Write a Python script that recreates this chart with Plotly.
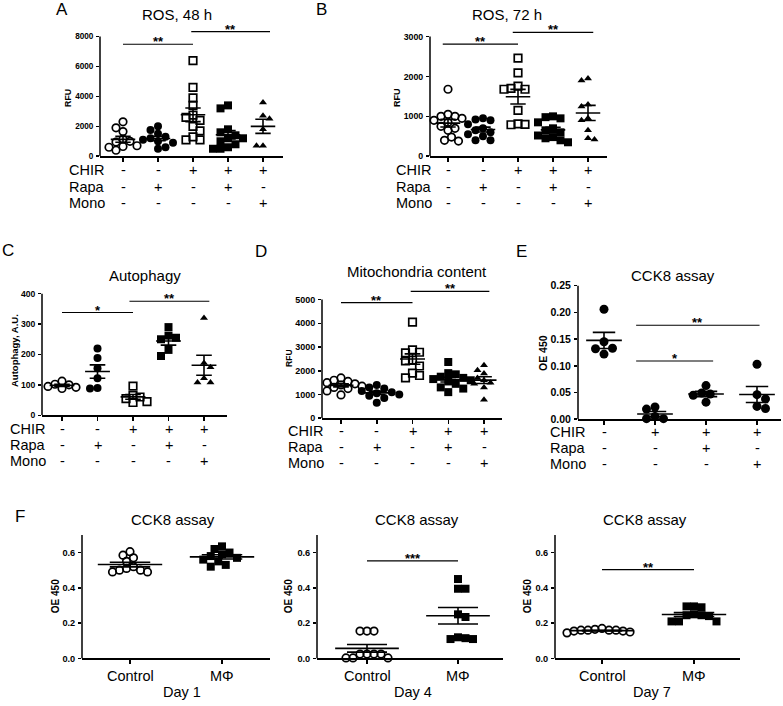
import numpy as np
import plotly.graph_objects as go

W, H = 783, 706
FONT = "Liberation Sans, Arial, sans-serif"

# ---------------- data ----------------
chir5 = ["-", "-", "+", "+", "+"]
rapa5 = ["-", "+", "-", "+", "-"]
mono5 = ["-", "-", "-", "-", "+"]

chir4 = ["-", "+", "+", "+"]
rapa4 = ["-", "-", "+", "-"]
mono4 = ["-", "-", "-", "+"]

# A: ROS, 48 h (RFU)
ros48_ctrl = [2300, 1900, 1650, 1150, 1000, 950, 700, 650, 600, 400]
ros48_rapa = [2000, 1750, 1500, 1300, 1200, 1100, 1000, 900, 600, 500]
ros48_chir = [6400, 4600, 3900, 3400, 2750, 2600, 2400, 2000, 1700, 1300, 1100, 1100]
ros48_chir_rapa = [3400, 3200, 1800, 1600, 1400, 1200, 1200, 1000, 800, 600, 500, 500]
ros48_chir_mono = [3600, 2700, 2500, 1800, 700, 700]

# B: ROS, 72 h (RFU)
ros72_ctrl = [1680, 1050, 1000, 1000, 950, 900, 850, 750, 700, 650, 480, 400, 380]
ros72_rapa = [950, 920, 900, 800, 700, 650, 600, 550, 500, 400, 400]
ros72_chir = [2460, 2090, 1760, 1700, 1680, 1680, 1150, 810, 800, 790]
ros72_chir_rapa = [1000, 980, 950, 850, 700, 650, 600, 520, 480, 450, 400, 350]
ros72_chir_mono = [1950, 1900, 1300, 1250, 950, 900, 650, 450, 420]

# C: Autophagy (A.U.)
auto_ctrl = [112, 102, 100, 95, 92, 88]
auto_rapa = [220, 188, 155, 122, 90, 88]
auto_chir = [96, 65, 60, 55, 45, 42]
auto_chir_rapa = [290, 262, 255, 250, 215, 195]
auto_chir_mono = [320, 172, 158, 122, 108, 108]

# D: Mitochondria content (RFU)
mito_ctrl = [1700, 1600, 1550, 1500, 1450, 1400, 1350, 1300, 1250, 1150, 980]
mito_rapa = [1400, 1300, 1250, 1150, 1100, 1050, 1000, 950, 850, 650]
mito_chir = [4050, 2880, 2780, 2750, 2450, 2420, 2200, 1900, 1800, 1700]
mito_chir_rapa = [2370, 1900, 1850, 1750, 1700, 1650, 1600, 1550, 1450, 1300, 1250, 1100]
mito_chir_mono = [2230, 2020, 1880, 1700, 1600, 1500, 1450, 1300, 780]

# E: CCK8 assay (OE 450)
cck_ctrl = [0.206, 0.145, 0.133, 0.132, 0.122]
cck_chir = [0.023, 0.019, 0.005, 0.001, 0.001]
cck_chir_rapa = [0.063, 0.049, 0.047, 0.045, 0.032]
cck_chir_mono = [0.103, 0.046, 0.038, 0.024, 0.020]

# F: CCK8 assay, Control vs MΦ
f_categories = ["Control", "MΦ"]
day1_ctrl = [0.605, 0.585, 0.57, 0.55, 0.52, 0.51, 0.50, 0.49, 0.49, 0.50]
day1_mphi = [0.635, 0.62, 0.60, 0.59, 0.58, 0.57, 0.56, 0.55, 0.53, 0.52]
day4_ctrl = [0.155, 0.155, 0.155, 0.025, 0.025, 0.025, 0.025, 0.003, 0.003, 0.003]
day4_mphi = [0.45, 0.395, 0.395, 0.25, 0.235, 0.115, 0.11, 0.11, 0.12]
day7_ctrl = [0.165, 0.16, 0.16, 0.155, 0.15, 0.145, 0.16, 0.17, 0.155, 0.16]
day7_mphi = [0.295, 0.295, 0.29, 0.25, 0.245, 0.245, 0.24, 0.21, 0.21, 0.21]

SYM5 = ["circle-open", "circle", "square-open", "square", "triangle-up"]

# ---------------- panel layout (pixels) ----------------
panels = [
    dict(letter="A", letter_xy=(62, 8), title="ROS, 48 h", title_xy=(177, 13),
         groups=[ros48_ctrl, ros48_rapa, ros48_chir, ros48_chir_rapa, ros48_chir_mono], syms=SYM5,
         xl=100, xr=283, c1=123, dx=35, yb=156, ytval=8000, ytpx=35, ytop=18, yline=8000,
         yticks=[0, 2000, 4000, 6000, 8000], fmt="{:.0f}", tfs=8.2,
         ylabel="RFU", ylabel_xy=(68, 97), lfs=8.8,
         rows=(67, [170, 187, 203], chir5, rapa5, mono5),
         sig=[(1, 3, 7490, "**"), (2.95, 5.2, 8330, "**")]),
    dict(letter="B", letter_xy=(321, 8), title="ROS, 72 h", title_xy=(507, 13),
         groups=[ros72_ctrl, ros72_rapa, ros72_chir, ros72_chir_rapa, ros72_chir_mono], syms=SYM5,
         xl=430, xr=607, c1=448, dx=35, yb=156, ytval=3000, ytpx=35, ytop=18, yline=3000,
         yticks=[0, 1000, 2000, 3000], fmt="{:.0f}", tfs=8.8,
         ylabel="RFU", ylabel_xy=(397, 97), lfs=9,
         rows=(394, [170, 187, 203], chir5, rapa5, mono5),
         sig=[(0.85, 3, 2810, "**"), (2.85, 5.15, 3107, "**")]),
    dict(letter="C", letter_xy=(8, 251), title="Autophagy", title_xy=(145, 277),
         groups=[auto_ctrl, auto_rapa, auto_chir, auto_chir_rapa, auto_chir_mono], syms=SYM5,
         xl=42, xr=227, c1=62, dx=35.5, yb=418, ytval=400, ytpx=295, ytop=283, yline=400,
         yticks=[0, 100, 200, 300, 400], fmt="{:.0f}", tfs=8.6,
         ylabel="Autophagy, A.U.", ylabel_xy=(14, 353), lfs=9.5,
         rows=(8, [432, 448, 464], chir5, rapa5, mono5),
         sig=[(1, 3, 338, "*"), (2.9, 5.15, 375, "**")]),
    dict(letter="D", letter_xy=(261, 252), title="Mitochondria content", title_xy=(417, 273),
         groups=[mito_ctrl, mito_rapa, mito_chir, mito_chir_rapa, mito_chir_mono], syms=SYM5,
         xl=322, xr=502, c1=341, dx=35.75, yb=421, ytval=5000, ytpx=301, ytop=283, yline=5000,
         yticks=[0, 1000, 2000, 3000, 4000, 5000], fmt="{:.0f}", tfs=9,
         ylabel="RFU", ylabel_xy=(289, 361), lfs=8.5,
         rows=(286, [434, 450, 466], chir5, rapa5, mono5),
         sig=[(1, 3, 4875, "**"), (2.95, 5.15, 5350, "**")]),
    dict(letter="E", letter_xy=(521, 252), title="CCK8 assay", title_xy=(673, 277),
         groups=[cck_ctrl, cck_chir, cck_chir_rapa, cck_chir_mono], syms=["circle"] * 4, msize=9,
         xl=578, xr=781, c1=604, dx=51, yb=422, ytval=0.25, ytpx=287, ytop=283, yline=0.25,
         yticks=[0, 0.05, 0.10, 0.15, 0.20, 0.25], fmt="{:.2f}", tfs=10.5,
         ylabel="OE 450", ylabel_xy=(543, 355), lfs=10.5,
         rows=(548, [435, 451, 467], chir4, rapa4, mono4),
         sig=[(1.63, 4.05, 0.176, "**"), (1.63, 3.14, 0.109, "*")]),
    dict(letter="F", letter_xy=(20, 520), title="CCK8 assay", title_xy=(173, 523),
         groups=[day1_ctrl, day1_mphi], syms=["circle-open", "square"],
         xl=82, xr=270, c1=130, dx=92, yb=664, ytval=0.7, ytpx=539, ytop=530, yline=0.7,
         yticks=[0, 0.2, 0.4, 0.6], fmt="{:.1f}", tfs=9.2,
         ylabel="OE 450", ylabel_xy=(55, 601), lfs=10,
         cats=(682, f_categories), day=("Day 1", 182, 698), sig=[]),
    dict(letter=None, title="CCK8 assay", title_xy=(417, 523),
         groups=[day4_ctrl, day4_mphi], syms=["circle-open", "square"],
         xl=317, xr=503, c1=367, dx=91, yb=664, ytval=0.7, ytpx=539, ytop=530, yline=0.7,
         yticks=[0, 0.2, 0.4, 0.6], fmt="{:.1f}", tfs=9.2,
         ylabel="OE 450", ylabel_xy=(288, 601), lfs=10,
         cats=(682, f_categories), day=("Day 4", 413, 698), sig=[(1, 2, 0.553, "***")]),
    dict(letter=None, title="CCK8 assay", title_xy=(645, 523),
         groups=[day7_ctrl, day7_mphi], syms=["circle-open", "square"],
         xl=555, xr=740, c1=602, dx=92, yb=664, ytval=0.7, ytpx=539, ytop=530, yline=0.7,
         yticks=[0, 0.2, 0.4, 0.6], fmt="{:.1f}", tfs=9.2,
         ylabel="OE 450", ylabel_xy=(527, 601), lfs=10,
         cats=(682, f_categories), day=("Day 7", 652, 698), sig=[(1, 2, 0.503, "**")]),
]


def fx(px):
    return px / W


def fy(py):
    return 1 - py / H


def swarm(vals, ppu_y, d=7.0):
    """Greedy beeswarm: horizontal pixel offsets so markers barely overlap."""
    vals = np.asarray(vals, float)
    ypx = vals * ppu_y
    order = np.argsort(-vals)
    placed = []
    off = np.zeros(len(vals))
    step = d * 0.5
    for n, i in enumerate(order):
        k = 0
        while True:
            if k == 0:
                cands = [0.0]
            else:
                cands = [k * step, -k * step] if n % 2 == 0 else [-k * step, k * step]
            hit = None
            for c in cands:
                if all((c - px) ** 2 + (ypx[i] - py) ** 2 >= d * d for px, py in placed):
                    hit = c
                    break
            if hit is not None:
                off[i] = hit
                placed.append((hit, ypx[i]))
                break
            k += 1
    return off


fig = go.Figure()
shapes = []
annotations = []
black = "black"
TXT = 14.5

for idx, p in enumerate(panels, start=1):
    xr_, yr_ = f"x{idx}", f"y{idx}"
    dx = p["dx"]
    ngrp = len(p["groups"])
    x0 = 1 - (p["c1"] - p["xl"]) / dx
    x1 = 1 + (p["xr"] - p["c1"]) / dx
    ppu = (p["yb"] - p["ytpx"]) / p["ytval"]
    ymax = (p["yb"] - p["ytop"]) / ppu

    fig.update_layout({
        f"xaxis{idx}": dict(domain=[fx(p["xl"]), fx(p["xr"])], range=[x0, x1], anchor=yr_,
                            showline=True, linewidth=1.5, linecolor=black, ticks="outside",
                            ticklen=4, tickwidth=1.5, tickcolor=black,
                            tickvals=list(range(1, ngrp + 1)), showticklabels=False,
                            showgrid=False, zeroline=False, fixedrange=True),
        f"yaxis{idx}": dict(domain=[fy(p["yb"]), fy(p["ytop"])], range=[0, ymax], anchor=xr_,
                            showline=False, ticks="outside", ticklen=3, tickwidth=1.5,
                            tickcolor=black, tickvals=p["yticks"],
                            ticktext=[p["fmt"].format(v) for v in p["yticks"]],
                            tickfont=dict(size=p["tfs"], family=FONT, color=black, weight="bold"),
                            ticklabelstandoff=1,
                            showgrid=False, zeroline=False, fixedrange=True),
    })

    # y axis line from 0 to top value
    shapes.append(dict(type="line", xref="paper", yref=yr_, x0=fx(p["xl"]), x1=fx(p["xl"]),
                       y0=0, y1=p["yline"], line=dict(color=black, width=1.5)))

    for k, (vals, sym) in enumerate(zip(p["groups"], p["syms"])):
        c = k + 1
        vals = np.asarray(vals, float)
        is_open = sym.endswith("open")
        size = 7 if sym.startswith("triangle") else (7.5 if is_open else 8)
        size = p.get("msize", size)
        offs = swarm(vals, ppu, d=size - 0.5) / dx
        fig.add_trace(go.Scatter(
            x=c + offs, y=vals, mode="markers", xaxis=xr_, yaxis=yr_, cliponaxis=False,
            marker=dict(symbol=sym, size=size, color=black,
                        line=dict(color=black, width=1.7 if is_open else 0)),
            showlegend=False, hoverinfo="skip"))
        m = vals.mean()
        s = vals.std(ddof=1) / np.sqrt(len(vals))
        fig.add_trace(go.Scatter(
            x=[c - 0.35, c + 0.35, None, c - 0.22, c + 0.22, None, c - 0.22, c + 0.22, None, c, c],
            y=[m, m, None, m + s, m + s, None, m - s, m - s, None, m - s, m + s],
            mode="lines", line=dict(color=black, width=1.6), xaxis=xr_, yaxis=yr_,
            cliponaxis=False, showlegend=False, hoverinfo="skip"))

    # significance bars
    for (xa, xb, yv, txt) in p["sig"]:
        shapes.append(dict(type="line", xref=xr_, yref=yr_, x0=xa, x1=xb, y0=yv, y1=yv,
                           line=dict(color=black, width=1.2)))
        annotations.append(dict(x=(xa + xb) / 2, y=yv, xref=xr_, yref=yr_, text=txt,
                                showarrow=False, yanchor="bottom", yshift=-7,
                                font=dict(size=13, family=FONT, color=black, weight="bold")))

    # titles and letters
    annotations.append(dict(x=fx(p["title_xy"][0]), y=fy(p["title_xy"][1]), xref="paper", yref="paper",
                            text=p["title"], showarrow=False, xanchor="center", yanchor="middle",
                            font=dict(size=15, family=FONT, color=black)))
    if p.get("letter"):
        annotations.append(dict(x=fx(p["letter_xy"][0]), y=fy(p["letter_xy"][1]), xref="paper",
                                yref="paper", text=p["letter"], showarrow=False, xanchor="center",
                                yanchor="middle", font=dict(size=17, family=FONT, color=black)))
    annotations.append(dict(x=fx(p["ylabel_xy"][0]), y=fy(p["ylabel_xy"][1]), xref="paper", yref="paper",
                            text=p["ylabel"], textangle=-90, showarrow=False, xanchor="center",
                            yanchor="middle",
                            font=dict(size=p["lfs"], family=FONT, color=black, weight="bold")))

    # condition rows
    if "rows" in p:
        lx, ys, chir, rapa, mono = p["rows"]
        for name, signs, ypx in zip(["CHIR", "Rapa", "Mono"], [chir, rapa, mono], ys):
            annotations.append(dict(x=fx(lx), y=fy(ypx), xref="paper", yref="paper", text=name,
                                    showarrow=False, xanchor="left", yanchor="middle",
                                    font=dict(size=TXT, family=FONT, color=black)))
            for k, sgn in enumerate(signs):
                annotations.append(dict(x=k + 1, y=fy(ypx), xref=xr_, yref="paper", text=sgn,
                                        showarrow=False, xanchor="center", yanchor="middle",
                                        font=dict(size=TXT, family=FONT, color=black)))
    if "cats" in p:
        cy, names = p["cats"]
        for k, nm in enumerate(names):
            annotations.append(dict(x=k + 1, y=fy(cy), xref=xr_, yref="paper", text=nm,
                                    showarrow=False, xanchor="center", yanchor="middle",
                                    font=dict(size=TXT, family=FONT, color=black)))
        dn, dxp, dyp = p["day"]
        annotations.append(dict(x=fx(dxp), y=fy(dyp), xref="paper", yref="paper", text=dn,
                                showarrow=False, xanchor="center", yanchor="middle",
                                font=dict(size=TXT, family=FONT, color=black)))

fig.update_layout(width=W, height=H, margin=dict(l=0, r=0, t=0, b=0), autosize=False,
                  paper_bgcolor="white", plot_bgcolor="white", showlegend=False,
                  shapes=shapes, annotations=annotations, font=dict(family=FONT, color=black))

fig.write_html("out.html", config={"displayModeBar": False, "staticPlot": True},
               post_script="document.body.style.margin='0px';document.body.style.overflow='hidden';")
